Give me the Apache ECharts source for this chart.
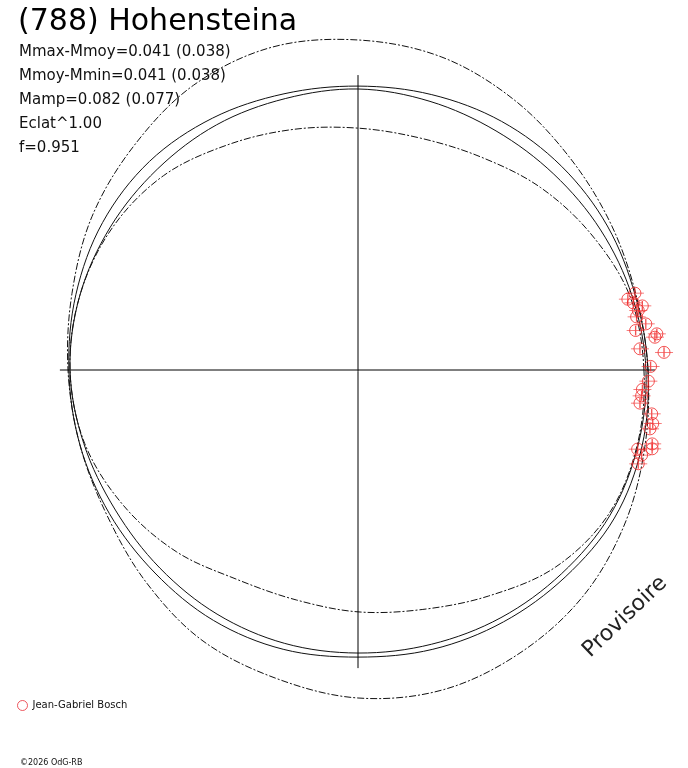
<!DOCTYPE html>
<html>
<head>
<meta charset="utf-8">
<script src="https://cdn.jsdelivr.net/npm/echarts@6/dist/echarts.min.js"></script>
<style>
html,body{margin:0;padding:0;background:#fff;}
#chart{width:688px;height:768px;}
</style>
</head>
<body>
<div id="chart"></div>
<script>
// Phase angles (deg) at which the model curves are read
const angles = [0,15,30,45,60,75,90,105,120,135,150,165,180,195,210,225,240,255,270,285,300,315,330,345];
// Relative radius of each curve at those angles
const outerDashed = [1.000,0.993,1.007,1.034,1.076,1.117,1.138,1.152,1.134,1.093,1.059,1.021,1.000,0.993,1.000,1.034,1.076,1.100,1.131,1.141,1.124,1.100,1.062,1.024];
const innerDashed = [0.986,0.972,0.931,0.890,0.848,0.828,0.834,0.859,0.897,0.948,0.979,0.993,0.993,0.976,0.934,0.886,0.834,0.821,0.834,0.855,0.900,0.962,0.997,0.997];
const outerSolid  = [1.000,0.990,0.993,0.993,0.990,0.983,0.979,0.986,1.003,1.017,1.017,1.007,0.997,0.993,0.990,0.990,0.997,0.997,0.990,0.997,1.003,1.010,1.021,1.014];
const innerSolid  = [0.993,0.979,0.966,0.955,0.952,0.959,0.969,0.969,0.976,0.979,0.986,0.993,0.993,0.979,0.966,0.966,0.972,0.976,0.976,0.979,0.986,0.993,1.003,1.000];
// Observations (Jean-Gabriel Bosch): phase angle (deg) and relative radius
const obsAngle  = [15.5,14.7,13.7,12.7,12.0,10.8,9.1,8.1,6.9,6.3,4.3,3.3,0.7,357.8,356.1,354.8,353.3,351.5,349.7,348.6,345.9,345.0,344.2,343.3,341.5];
const obsRadius = [0.991,0.962,0.977,1.005,0.988,0.978,1.005,0.967,1.038,1.030,0.975,1.057,1.009,1.002,0.983,0.982,0.979,1.024,1.033,1.027,1.046,1.050,1.002,1.021,1.019];
// Cross-hair extents
const crossH = [[1.028,180],[1.024,0]];
const crossV = [[1.017,90],[1.028,270]];
// Texts
const titleText = '(788) Hohensteina';
const statLines = ['Mmax-Mmoy=0.041 (0.038)','Mmoy-Mmin=0.041 (0.038)','Mamp=0.082 (0.077)','Eclat^1.00','f=0.951'];
const observer = 'Jean-Gabriel Bosch';
const copyright = '\u00A92026 OdG-RB';
const stamp = 'Provisoire';

const chart = echarts.init(document.getElementById('chart'), null, {renderer:'canvas'});
const dash = [7,2,2,2];
const red = '#f02828';
const barPath = 'path://M0,5 L18,5 M9,0 L9,10';

// closed smooth curve through the read points, positioned by the polar axes
function curveSeries(r, lineDash){
  const pts = angles.map((a,i)=>[r[i], a]);
  return {
    type:'custom', coordinateSystem:'polar', data:pts, silent:true, z:2,
    renderItem:function(params, api){
      if (params.dataIndex !== 0) return null;
      const points = pts.map(p=>api.coord(p));
      return {type:'polygon', shape:{points:points, smooth:0.34},
              style:{fill:'none', stroke:'#111', lineWidth:1, lineDash:lineDash || null}};
    }
  };
}

const graphics = [
  {type:'text', x:18, y:22, style:{text:titleText, font:'30px "DejaVu Sans"', fill:'#000', textAlign:'left', textVerticalAlign:'middle'}}
];
statLines.forEach((t,i)=>{
  graphics.push({type:'text', x:19, y:52 + i*24, style:{text:t, font:'15px "DejaVu Sans"', fill:'#111', textAlign:'left', textVerticalAlign:'middle'}});
});
graphics.push({type:'text', x:20, y:762.5, style:{text:copyright, font:'8px "DejaVu Sans"', fill:'#111', textAlign:'left', textVerticalAlign:'middle'}});
graphics.push({type:'text', x:625, y:617, rotation:Math.PI/4*0.97, style:{text:stamp, font:'22px "DejaVu Sans"', fill:'#222', textAlign:'center', textVerticalAlign:'middle'}});

const obsData = obsRadius.map((r,i)=>[r, obsAngle[i]]);

const option = {
  animation:false,
  backgroundColor:'#fff',
  polar:{center:[358,370], radius:348},
  angleAxis:{type:'value', min:0, max:360, startAngle:0, clockwise:false, show:false, axisLine:{show:false}, axisTick:{show:false}, axisLabel:{show:false}, splitLine:{show:false}},
  radiusAxis:{type:'value', min:0, max:1.2, show:false, axisLine:{show:false}, axisTick:{show:false}, axisLabel:{show:false}, splitLine:{show:false}},
  legend:{
    left:12, top:695, itemWidth:10, itemHeight:10, itemGap:8,
    textStyle:{fontFamily:'DejaVu Sans', fontSize:10, color:'#111'},
    data:[{name:observer, icon:'circle', itemStyle:{color:'#fff', borderColor:'#e8303a', borderWidth:1}}]
  },
  graphic: graphics,
  series:[
    {type:'line', coordinateSystem:'polar', data:crossH, symbol:'none', silent:true, lineStyle:{color:'#000', width:1}},
    {type:'line', coordinateSystem:'polar', data:crossV, symbol:'none', silent:true, lineStyle:{color:'#000', width:1}},
    curveSeries(outerDashed, dash),
    curveSeries(innerDashed, dash),
    curveSeries(outerSolid, null),
    curveSeries(innerSolid, null),
    {name:observer, type:'scatter', coordinateSystem:'polar', data:obsData,
     symbol:'circle', symbolSize:12,
     itemStyle:{color:'transparent', borderColor:red, borderWidth:1}, silent:true, z:5},
    {name:observer, type:'scatter', coordinateSystem:'polar', data:obsData,
     symbol:barPath, symbolSize:[18,10],
     itemStyle:{color:'transparent', borderColor:red, borderWidth:1}, silent:true, z:5}
  ]
};
chart.setOption(option);
</script>
</body>
</html>
